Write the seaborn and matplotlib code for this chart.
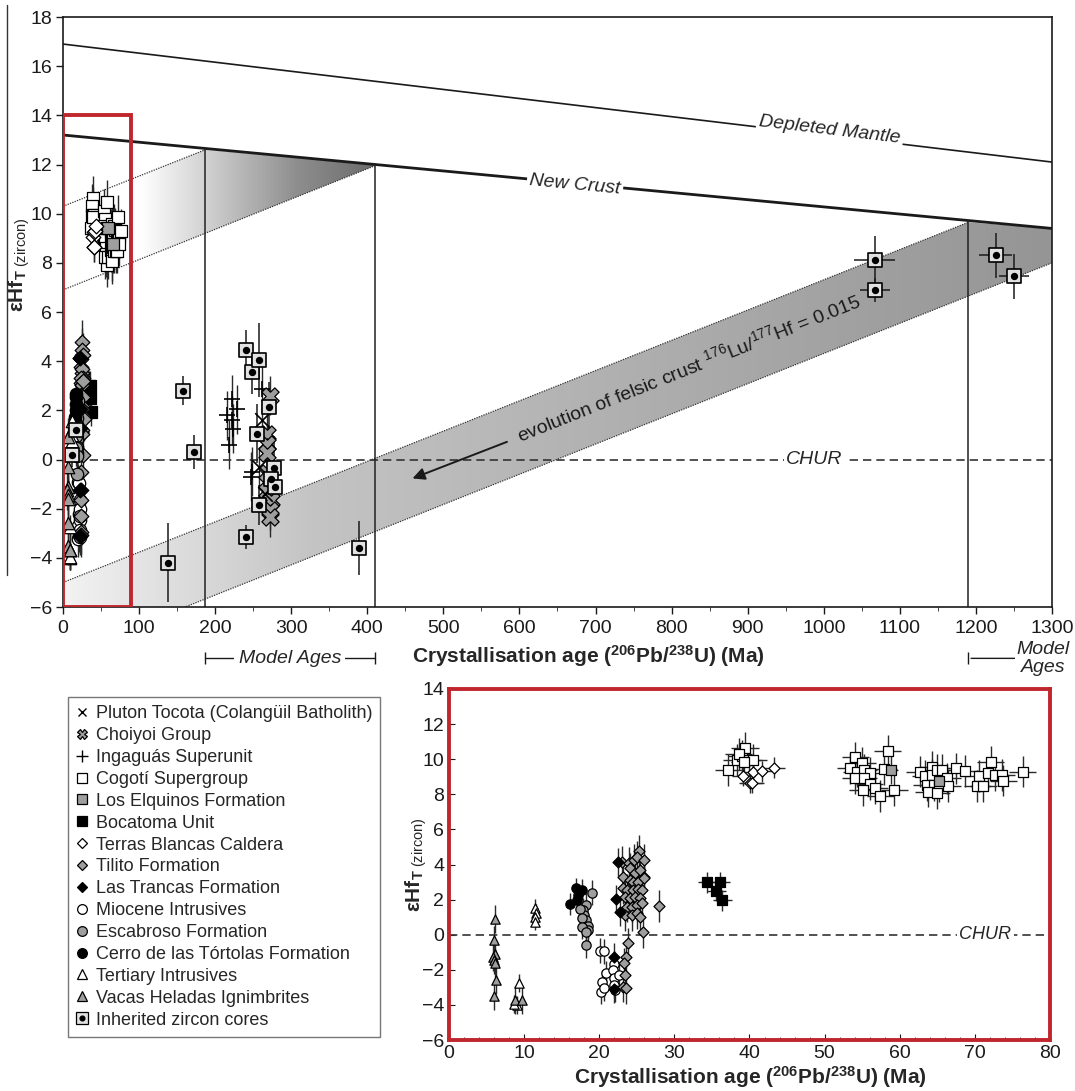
import numpy as np
import pandas as pd
import matplotlib.pyplot as plt
import seaborn as sns
import matplotlib.transforms as mtransforms
from matplotlib.patches import Polygon, Rectangle
from matplotlib.lines import Line2D
from matplotlib.colors import LinearSegmentedColormap

sns.set_style("ticks")
plt.rcParams['font.family'] = ['Liberation Sans', 'DejaVu Sans']
plt.rcParams['mathtext.fontset'] = 'custom'
plt.rcParams['mathtext.rm'] = 'Liberation Sans'
plt.rcParams['mathtext.it'] = 'Liberation Sans:italic'
plt.rcParams['mathtext.bf'] = 'Liberation Sans:bold'

# ---- reference curves (age in Ma, eHf) ----
dm_age = [0, 1300]
dm_ehf = [16.9, 12.1]
newcrust_age = [0, 1300]
newcrust_ehf = [13.2, 9.4]
# felsic crust evolution bands (dotted lines)
upper_top_age, upper_top_ehf = [0, 187], [10.3, 12.6]
upper_bot_age, upper_bot_ehf = [0, 410], [6.9, 11.95]
lower_top_age, lower_top_ehf = [0, 1190], [-5.0, 9.65]
lower_bot_age, lower_bot_ehf = [0, 1300], [-7.97, 8.0]
model_ages = [187, 410, 1190]

# ---- young magmatic units (age Ma, eHf) ----
vacas_age = [6.1, 6.0, 6.1, 5.9, 6.0, 6.1, 6.2, 6.0, 8.8, 9.7]
vacas_ehf = [0.9, -0.3, -1.1, -1.25, -1.45, -1.6, -2.6, -3.5, -3.7, -3.7]
tertiary_age = [11.5, 11.6, 11.5, 11.4, 9.3, 9.1, 8.7]
tertiary_ehf = [1.55, 1.25, 1.0, 0.75, -2.75, -4.0, -3.95]
cerro_age = [16.1, 16.9, 17.7, 17.0, 17.2]
cerro_ehf = [1.75, 2.65, 2.55, 2.0, 2.25]
escabroso_age = [19.1, 18.3, 17.9, 18.0, 18.3, 18.5, 18.5, 18.3, 17.4, 17.7, 17.7, 18.3]
escabroso_ehf = [2.4, 1.7, 1.4, 1.1, 0.85, 0.5, 0.25, -0.6, 1.45, 0.95, 0.45, 0.15]
trancas_age = [22.5, 22.2, 22.8, 21.9, 22.0]
trancas_ehf = [4.15, 2.05, 1.3, -1.25, -3.1]
tilito_age = [23.0, 23.9, 24.6, 25.3, 25.0, 26.0, 24.1, 24.8, 25.4, 26.0, 23.2, 24.1, 24.5,
              25.2, 25.9, 23.1, 23.7, 24.5, 25.1, 25.7, 23.4, 24.1, 24.8, 25.4, 23.7, 24.3,
              25.0, 25.7, 23.4, 24.3, 25.0, 25.4, 25.8, 28.0, 23.8, 23.6, 23.3, 23.4, 23.1, 23.5]
tilito_ehf = [4.13, 4.07, 4.26, 4.79, 4.44, 4.26, 3.78, 3.50, 3.69, 3.31, 3.31, 3.12, 3.02,
              3.02, 3.21, 2.64, 2.55, 2.55, 2.59, 2.55, 2.17, 2.07, 2.17, 2.07, 1.60, 1.60,
              1.69, 1.79, 1.12, 1.12, 1.22, 1.03, 0.17, 1.65, -0.49, -1.25, -1.63, -2.3, -2.96, -3.06]
miocene_age = [20.1, 20.6, 20.9, 20.3, 20.2, 20.6, 21.9, 21.8, 21.9, 22.0, 22.1, 22.6]
miocene_ehf = [-0.9, -0.95, -2.2, -2.7, -3.25, -3.05, -1.65, -2.0, -2.45, -2.85, -3.15, -2.3]
bocatoma_age = [34.4, 36.1, 35.6, 36.4]
bocatoma_ehf = [3.0, 3.0, 2.5, 1.95]
terras_age = [39.2, 40.1, 40.4, 40.5, 41.6, 43.2]
terras_ehf = [9.05, 8.65, 8.65, 9.25, 9.3, 9.5]
cogoti_age = [37.2, 38.3, 39.0, 39.4, 38.6, 39.9, 40.5, 39.3,
              54.1, 55.0, 53.4, 54.3, 55.2, 56.1, 54.1, 55.2, 56.0, 56.7, 57.4, 55.1, 58.4, 57.9, 59.3,
              62.7, 63.4, 64.3, 64.3, 64.9, 65.6, 63.6, 64.5, 65.2, 63.8, 64.9, 66.3, 66.4, 67.5,
              68.7, 70.5, 70.3, 71.1, 71.7, 72.1, 72.7, 73.6, 73.8, 76.4]
cogoti_ehf = [9.4, 9.95, 10.2, 10.65, 10.3, 9.95, 9.95, 9.85,
              10.1, 9.77, 9.48, 9.29, 9.38, 9.23, 8.91, 8.91, 8.59, 8.34, 7.90, 8.24, 10.48, 9.42, 8.24,
              9.29, 9.04, 9.57, 9.1, 9.38, 9.38, 8.53, 8.53, 8.47, 8.15, 8.06, 8.91, 8.47, 9.48,
              9.33, 9.04, 8.47, 8.47, 9.2, 9.86, 9.1, 9.1, 8.78, 9.29]
elquinos_age = [58.8, 65.2]
elquinos_ehf = [9.4, 8.75]

# ---- Palaeozoic units ----
ingaguas_age = [221.7, 229, 215, 222.5, 223.8, 218, 249, 247.7, 261]
ingaguas_ehf = [2.45, 2.05, 1.8, 1.6, 1.25, 0.6, -0.5, -0.7, 2.85]
choiyoi_age = [272, 268.5, 268.5, 268.5, 268.5, 268.5, 273, 272, 272]
choiyoi_ehf = [2.6, 1.05, 0.65, 0.25, -0.55, -1.3, -1.65, -2.05, -2.35]
tocota_age = [262, 258, 265]
tocota_ehf = [1.6, -0.3, -1.4]

# ---- inherited zircon cores ----
core_age = [12, 17, 138, 158, 172, 240, 248, 257, 255, 271, 277, 273, 279, 258, 240, 389,
            1067, 1067, 1226, 1250]
core_ehf = [0.2, 1.2, -4.2, 2.8, 0.3, 4.45, 3.55, 4.05, 1.05, 2.15, -0.35, -0.8, -1.1, -1.85,
            -3.15, -3.6, 8.1, 6.9, 8.3, 7.45]
core_yerr = [0.5, 0.5, 1.6, 0.6, 0.7, 0.8, 0.9, 1.5, 1.2, 1.0, 1.3, 1.0, 0.9, 0.8, 0.5, 1.1,
             1.0, 0.5, 0.9, 0.9]
core_xerr = [0, 0, 0, 0, 0, 0, 0, 0, 0, 0, 0, 0, 0, 0, 0, 8, 27, 20, 22, 20]

# name, ages, ehf, xerr, yerr, marker, face colour, relative size
groups = [
    ("Cogotí Supergroup", cogoti_age, cogoti_ehf, 1.8, 0.9, "s", "white", 1.0),
    ("Los Elquinos Formation", elquinos_age, elquinos_ehf, 1.0, 0.8, "s", "#9e9e9e", 1.0),
    ("Terras Blancas Caldera", terras_age, terras_ehf, 1.5, 0.6, "D", "white", 0.7),
    ("Bocatoma Unit", bocatoma_age, bocatoma_ehf, 1.3, 0.6, "s", "black", 1.0),
    ("Miocene Intrusives", miocene_age, miocene_ehf, 0.4, 0.7, "o", "white", 1.0),
    ("Tilito Formation", tilito_age, tilito_ehf, 0.6, 0.9, "D", "#9e9e9e", 0.7),
    ("Las Trancas Formation", trancas_age, trancas_ehf, 0.5, 0.8, "D", "black", 0.7),
    ("Escabroso Formation", escabroso_age, escabroso_ehf, 0.4, 0.7, "o", "#9e9e9e", 1.0),
    ("Cerro de las Tórtolas Formation", cerro_age, cerro_ehf, 0.3, 0.6, "o", "black", 1.0),
    ("Tertiary Intrusives", tertiary_age, tertiary_ehf, 0.3, 0.5, "^", "white", 1.0),
    ("Vacas Heladas Ignimbrites", vacas_age, vacas_ehf, 0.2, 0.8, "^", "#9e9e9e", 1.0),
]
old_groups = [
    ("Ingaguás Superunit", ingaguas_age, ingaguas_ehf, 0, 1.0, "+", "black", 1.3),
    ("Choiyoi Group", choiyoi_age, choiyoi_ehf, 0, 0.8, "X", "#9e9e9e", 1.4),
    ("Pluton Tocota (Colangüil Batholith)", tocota_age, tocota_ehf, 0, 0.8, "x", "black", 1.0),
]

fig = plt.figure(figsize=(10.75, 10.91), dpi=100)
ax = fig.add_axes([0.0586, 0.4436, 0.92, 0.5408])
axi = fig.add_axes([0.4177, 0.0467, 0.559, 0.3218])


def gradient_band(axis, verts, x0, x1, colours):
    poly = Polygon(verts, closed=True, facecolor="none", edgecolor="none")
    axis.add_patch(poly)
    grad = np.linspace(0, 1, 256).reshape(1, -1)
    cmap = LinearSegmentedColormap.from_list("band", colours)
    im = axis.imshow(grad, extent=[x0, x1, -8, 18], aspect="auto", cmap=cmap,
                     origin="lower", zorder=0.5, interpolation="bicubic")
    im.set_clip_path(poly)


nc = lambda a: np.interp(a, newcrust_age, newcrust_ehf)
up_band = list(zip(upper_top_age, upper_top_ehf)) + [(410, nc(410))] + \
    list(zip(upper_bot_age[::-1], upper_bot_ehf[::-1]))
gradient_band(ax, up_band, 0, 410, ["white", "white", "#c8c8c8", "#8e8e8e", "#6c6c6c"])
low_band = [(0, lower_top_ehf[0]), (1190, lower_top_ehf[1]), (1300, nc(1300)),
            (1300, lower_bot_ehf[1]), (0, lower_bot_ehf[0])]
gradient_band(ax, low_band, 0, 1300, ["#f2f2f2", "#c4c4c4", "#b4b4b4", "#a4a4a4", "#959595"])

ax.plot(dm_age, dm_ehf, color="#1a1a1a", lw=1.2, zorder=2)
ax.plot(newcrust_age, newcrust_ehf, color="#1a1a1a", lw=2.0, zorder=2)
for xs, ys in [(upper_top_age, upper_top_ehf), (upper_bot_age, upper_bot_ehf),
               (lower_top_age, lower_top_ehf), (lower_bot_age, lower_bot_ehf)]:
    ax.plot(xs, ys, color="#333333", lw=0.9, ls=(0, (1, 1)), zorder=2)
for m in model_ages:
    ax.plot([m, m], [-6, nc(m)], color="#222222", lw=1.1, zorder=2)
ax.axhline(0, color="#333333", lw=1.2, ls=(0, (5, 3)), zorder=1.5)

# red box marking the inset
ax.add_patch(Rectangle((0, -6), 90, 20, fill=False, edgecolor="#c0272d", lw=2.8, zorder=6))


def draw_groups(axis, grps, scale, with_x):
    for name, xs, ys, xe, ye, mk, fc, rel in grps:
        axis.errorbar(xs, ys, yerr=ye, xerr=xe if with_x else None, fmt="none",
                      ecolor="#2a2a2a", elinewidth=1.0, zorder=3)
        df = pd.DataFrame({"age": xs, "ehf": ys})
        if mk in ("x", "+"):
            sns.scatterplot(data=df, x="age", y="ehf", ax=axis, marker=mk, color="black",
                            s=scale * rel, linewidth=1.2, zorder=4, legend=False)
        else:
            sns.scatterplot(data=df, x="age", y="ehf", ax=axis, marker=mk, color=fc,
                            edgecolor="black", s=scale * rel, linewidth=0.9, zorder=4,
                            legend=False)


draw_groups(ax, groups, 80, False)
draw_groups(ax, old_groups, 110, False)

# inherited cores
ax.errorbar(core_age, core_ehf, yerr=core_yerr, xerr=core_xerr, fmt="none",
            ecolor="#1a1a1a", elinewidth=1.1, zorder=3)
cores = pd.DataFrame({"age": core_age, "ehf": core_ehf})
sns.scatterplot(data=cores, x="age", y="ehf", ax=ax, marker="s", color="#e2e2e2",
                edgecolor="black", s=115, linewidth=1.2, zorder=5, legend=False)
sns.scatterplot(data=cores, x="age", y="ehf", ax=ax, marker="o", color="black",
                edgecolor="black", s=28, linewidth=0, zorder=6, legend=False)

ax.set_xlim(0, 1300)
ax.set_ylim(-6, 18)
ax.set_xticks(np.arange(0, 1301, 100))
ax.set_xticks(np.arange(0, 1301, 50), minor=True)
ax.set_yticks(np.arange(-6, 19, 2))
ax.tick_params(labelsize=14, length=5, width=1, colors="#1a1a1a", pad=4)
ax.tick_params(axis="y", pad=3)
ax.tick_params(which="minor", length=3)
ax.set_xlabel("")
ax.set_ylabel("")
for sp in ax.spines.values():
    sp.set_visible(True)
    sp.set_linewidth(1.2)
    sp.set_color("#1a1a1a")

# annotations
box = dict(facecolor="white", edgecolor="none", pad=2)
ax.text(1008, 13.4, "Depleted Mantle", style="italic", fontsize=14, rotation=-6.8,
        ha="center", va="center", bbox=box, zorder=7)
ax.text(673, 11.17, "New Crust", style="italic", fontsize=14, rotation=-5.4,
        ha="center", va="center", bbox=box, zorder=7)
ax.text(988, 0, "CHUR", style="italic", fontsize=14, ha="center", va="center",
        bbox=box, zorder=7)
ax.text(822, 3.75, "evolution of felsic crust $^{176}$Lu/$^{177}$Hf = 0.015", fontsize=14,
        rotation=21.7, rotation_mode="anchor", ha="center", va="center", color="#1a1a1a",
        zorder=7)
ax.annotate("", xy=(456, -0.81), xytext=(587, 0.76),
            arrowprops=dict(arrowstyle="-|>", color="#1a1a1a", lw=1.4, mutation_scale=18),
            zorder=7)

trans = mtransforms.blended_transform_factory(ax.transData, ax.transAxes)
y_ma = -0.087
ax.plot([187, 410], [y_ma, y_ma], transform=trans, color="#1a1a1a", lw=1.0,
        marker="|", markersize=9, clip_on=False)
ax.text(298, y_ma, "Model Ages", transform=trans, style="italic", fontsize=14,
        ha="center", va="center", bbox=dict(facecolor="white", edgecolor="none", pad=3))
ax.plot([1190], [y_ma], transform=trans, color="#1a1a1a", marker="|", markersize=9,
        clip_on=False)
ax.annotate("", xy=(1325, y_ma), xytext=(1190, y_ma), xycoords=trans, textcoords=trans,
            arrowprops=dict(arrowstyle="-|>", color="#1a1a1a", lw=1.0, mutation_scale=14))
ax.text(1288, y_ma, "Model\nAges", transform=trans, style="italic", fontsize=14,
        ha="center", va="center", linespacing=1.1,
        bbox=dict(facecolor="white", edgecolor="none", pad=1))

fig.text(588 / 1075, 1 - 656 / 1091, "Crystallisation age ($\\mathbf{^{206}}$Pb/$\\mathbf{^{238}}$U) (Ma)",
         fontsize=15, fontweight="bold", ha="center", va="center")
fig.text(19 / 1075, 1 - 265 / 1091, "εHf$_{\\mathbf{T}\\ \\mathrm{(zircon)}}$",
         fontsize=15, fontweight="bold", rotation=90, ha="center", va="center")
fig.add_artist(Line2D([7 / 1075, 7 / 1075], [1 - 5 / 1091, 1 - 575 / 1091],
                      color="#333333", lw=1.0))

# ---- inset ----
axi.axhline(0, color="#333333", lw=1.2, ls=(0, (5, 3)), zorder=1.5)
draw_groups(axi, groups, 45, True)
axi.text(71.4, 0, "CHUR", style="italic", fontsize=13, ha="center", va="center",
         bbox=box, zorder=7)
axi.set_xlim(0, 80)
axi.set_ylim(-6, 14)
axi.set_xticks(np.arange(0, 81, 10))
axi.set_xticks(np.arange(0, 81, 2), minor=True)
axi.set_yticks(np.arange(-6, 15, 2))
axi.tick_params(labelsize=14, direction="in", length=4, colors="#1a1a1a")
axi.tick_params(which="minor", direction="in", length=2)
axi.set_xlabel("")
axi.set_ylabel("")
for sp in axi.spines.values():
    sp.set_visible(True)
    sp.set_linewidth(2.8)
    sp.set_color("#c0272d")
fig.text(750 / 1075, 1 - 1077 / 1091, "Crystallisation age ($\\mathbf{^{206}}$Pb/$\\mathbf{^{238}}$U) (Ma)",
         fontsize=15, fontweight="bold", ha="center", va="center")
fig.text(416 / 1075, 1 - 865 / 1091, "εHf$_{\\mathbf{T}\\ \\mathrm{(zircon)}}$",
         fontsize=15, fontweight="bold", rotation=90, ha="center", va="center")

# ---- legend ----
def mk_handle(mk, fc, ms):
    if mk in ("x", "+"):
        return Line2D([], [], marker=mk, ls="none", color="black", markersize=ms, mew=1.0)
    return Line2D([], [], marker=mk, ls="none", markerfacecolor=fc, markeredgecolor="black",
                  markersize=ms, mew=0.9)

legend_items = [
    ("Pluton Tocota (Colangüil Batholith)", mk_handle("x", "black", 6)),
    ("Choiyoi Group", mk_handle("X", "#9e9e9e", 7)),
    ("Ingaguás Superunit", mk_handle("+", "black", 8)),
    ("Cogotí Supergroup", mk_handle("s", "white", 7)),
    ("Los Elquinos Formation", mk_handle("s", "#9e9e9e", 7)),
    ("Bocatoma Unit", mk_handle("s", "black", 7)),
    ("Terras Blancas Caldera", mk_handle("D", "white", 5.5)),
    ("Tilito Formation", mk_handle("D", "#9e9e9e", 5.5)),
    ("Las Trancas Formation", mk_handle("D", "black", 5.5)),
    ("Miocene Intrusives", mk_handle("o", "white", 7)),
    ("Escabroso Formation", mk_handle("o", "#9e9e9e", 7)),
    ("Cerro de las Tórtolas Formation", mk_handle("o", "black", 7)),
    ("Tertiary Intrusives", mk_handle("^", "white", 7)),
    ("Vacas Heladas Ignimbrites", mk_handle("^", "#9e9e9e", 7)),
    ("Inherited zircon cores", (mk_handle("s", "#e2e2e2", 8), mk_handle("o", "black", 3.5))),
]
leg = fig.legend([h for _, h in legend_items], [l for l, _ in legend_items],
                 loc="upper left", bbox_to_anchor=(0.063, 0.361), fontsize=13,
                 frameon=True, fancybox=False, handlelength=0.7, handletextpad=0.4,
                 labelspacing=0.27, borderpad=0.45, borderaxespad=0)
leg.get_frame().set_edgecolor("#555555")
leg.get_frame().set_linewidth(1.0)

fig.savefig("out.png", dpi=100)
